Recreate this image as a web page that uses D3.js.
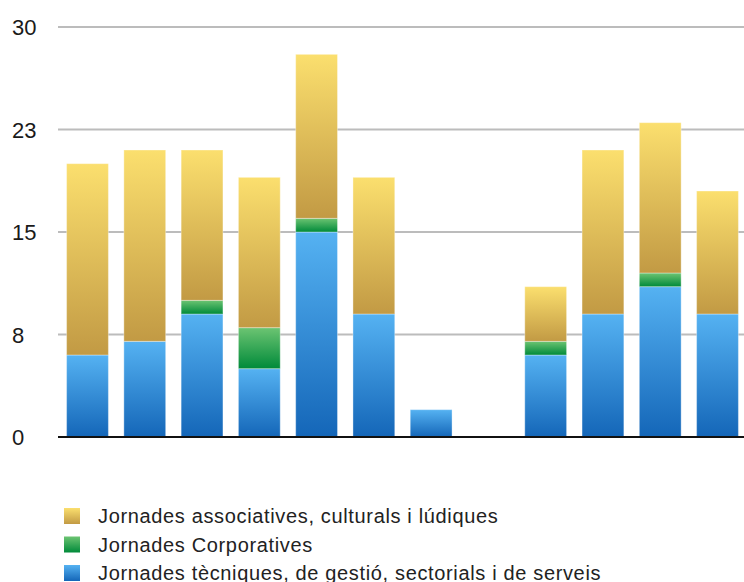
<!DOCTYPE html>
<html>
<head>
  <meta charset="utf-8">
  <script src="https://cdn.jsdelivr.net/npm/d3@7"></script>
  <style>
    body { margin: 0; background: #fff; }
    text { font-family: "Liberation Sans", Arial, sans-serif; }
  </style>
</head>
<body>
<svg id="chart" width="744" height="582"></svg>
<script>
// one bar per month, august is empty
var months = ["gen", "feb", "mar", "abr", "mai", "jun", "jul", "ago", "set", "oct", "nov", "des"];
var tecniques = [6, 7, 9, 5, 15, 9, 2, 0, 6, 9, 11, 9];
var corporatives = [0, 0, 1, 3, 1, 0, 0, 0, 1, 0, 1, 0];
var associatives = [14, 14, 11, 11, 12, 10, 0, 0, 4, 12, 11, 9];
var tickValues = [0, 7.5, 15, 22.5, 30];
var seriesNames = ["Jornades associatives, culturals i lúdiques", "Jornades Corporatives", "Jornades tècniques, de gestió, sectorials i de serveis"];

var svg = d3.select("#chart");

var colors = {
  tec: ["#55b2f2", "#1466b8"],
  corp: ["#6cc472", "#008a3a"],
  assoc: ["#fbdf6e", "#c29a44"]
};

var defs = svg.append("defs");
Object.keys(colors).forEach(function(k) {
  var g = defs.append("linearGradient").attr("id", "grad-" + k)
    .attr("x1", 0).attr("y1", 0).attr("x2", 0).attr("y2", 1);
  g.append("stop").attr("offset", "0%").attr("stop-color", colors[k][0]);
  g.append("stop").attr("offset", "100%").attr("stop-color", colors[k][1]);
});

var x = d3.scaleBand().domain(months).range([58, 747]).paddingInner(0.27).paddingOuter(0.15);
var y = d3.scaleLinear().domain([0, 30]).range([437, 27]);

// gridlines + labels
var grid = svg.append("g");
grid.selectAll("line").data(tickValues.filter(function(d) { return d > 0; })).enter()
  .append("line")
  .attr("x1", 58).attr("x2", 744)
  .attr("y1", function(d) { return y(d); }).attr("y2", function(d) { return y(d); })
  .attr("stroke", "#bcbcbc").attr("stroke-width", 2);

grid.selectAll("text").data(tickValues).enter()
  .append("text")
  .attr("x", 12).attr("y", function(d) { return y(d) + 8; })
  .attr("font-size", 22).attr("fill", "#1a1a1a")
  .text(function(d) { return Math.round(d); });

var rows = months.map(function(m, i) {
  return { month: m, tec: tecniques[i], corp: corporatives[i], assoc: associatives[i] };
});
var stack = d3.stack().keys(["tec", "corp", "assoc"])(rows);

svg.append("g").selectAll("g").data(stack).enter()
  .append("g")
  .attr("fill", function(s) { return "url(#grad-" + s.key + ")"; })
  .selectAll("rect").data(function(s) { return s.filter(function(d) { return d[1] > d[0]; }); }).enter()
  .append("rect")
  .attr("x", function(d) { return x(d.data.month); })
  .attr("width", x.bandwidth())
  .attr("y", function(d) { return y(d[1]); })
  .attr("height", function(d) { return y(d[0]) - y(d[1]); })
  .attr("stroke", "rgba(255,255,255,0.35)").attr("stroke-width", 1);

// baseline
svg.append("line").attr("x1", 58).attr("x2", 744).attr("y1", y(0)).attr("y2", y(0))
  .attr("stroke", "#111").attr("stroke-width", 2);

// legend
var legendKeys = ["assoc", "corp", "tec"];
var legend = svg.append("g").selectAll("g").data(legendKeys).enter()
  .append("g")
  .attr("transform", function(d, i) { return "translate(64," + (508 + i * 28.5) + ")"; });
legend.append("rect").attr("width", 16).attr("height", 16)
  .attr("fill", function(d) { return "url(#grad-" + d + ")"; });
legend.append("text").attr("x", 34).attr("y", 15)
  .attr("font-size", 20).attr("letter-spacing", 0.65).attr("fill", "#222")
  .text(function(d, i) { return seriesNames[i]; });
</script>
</body>
</html>
